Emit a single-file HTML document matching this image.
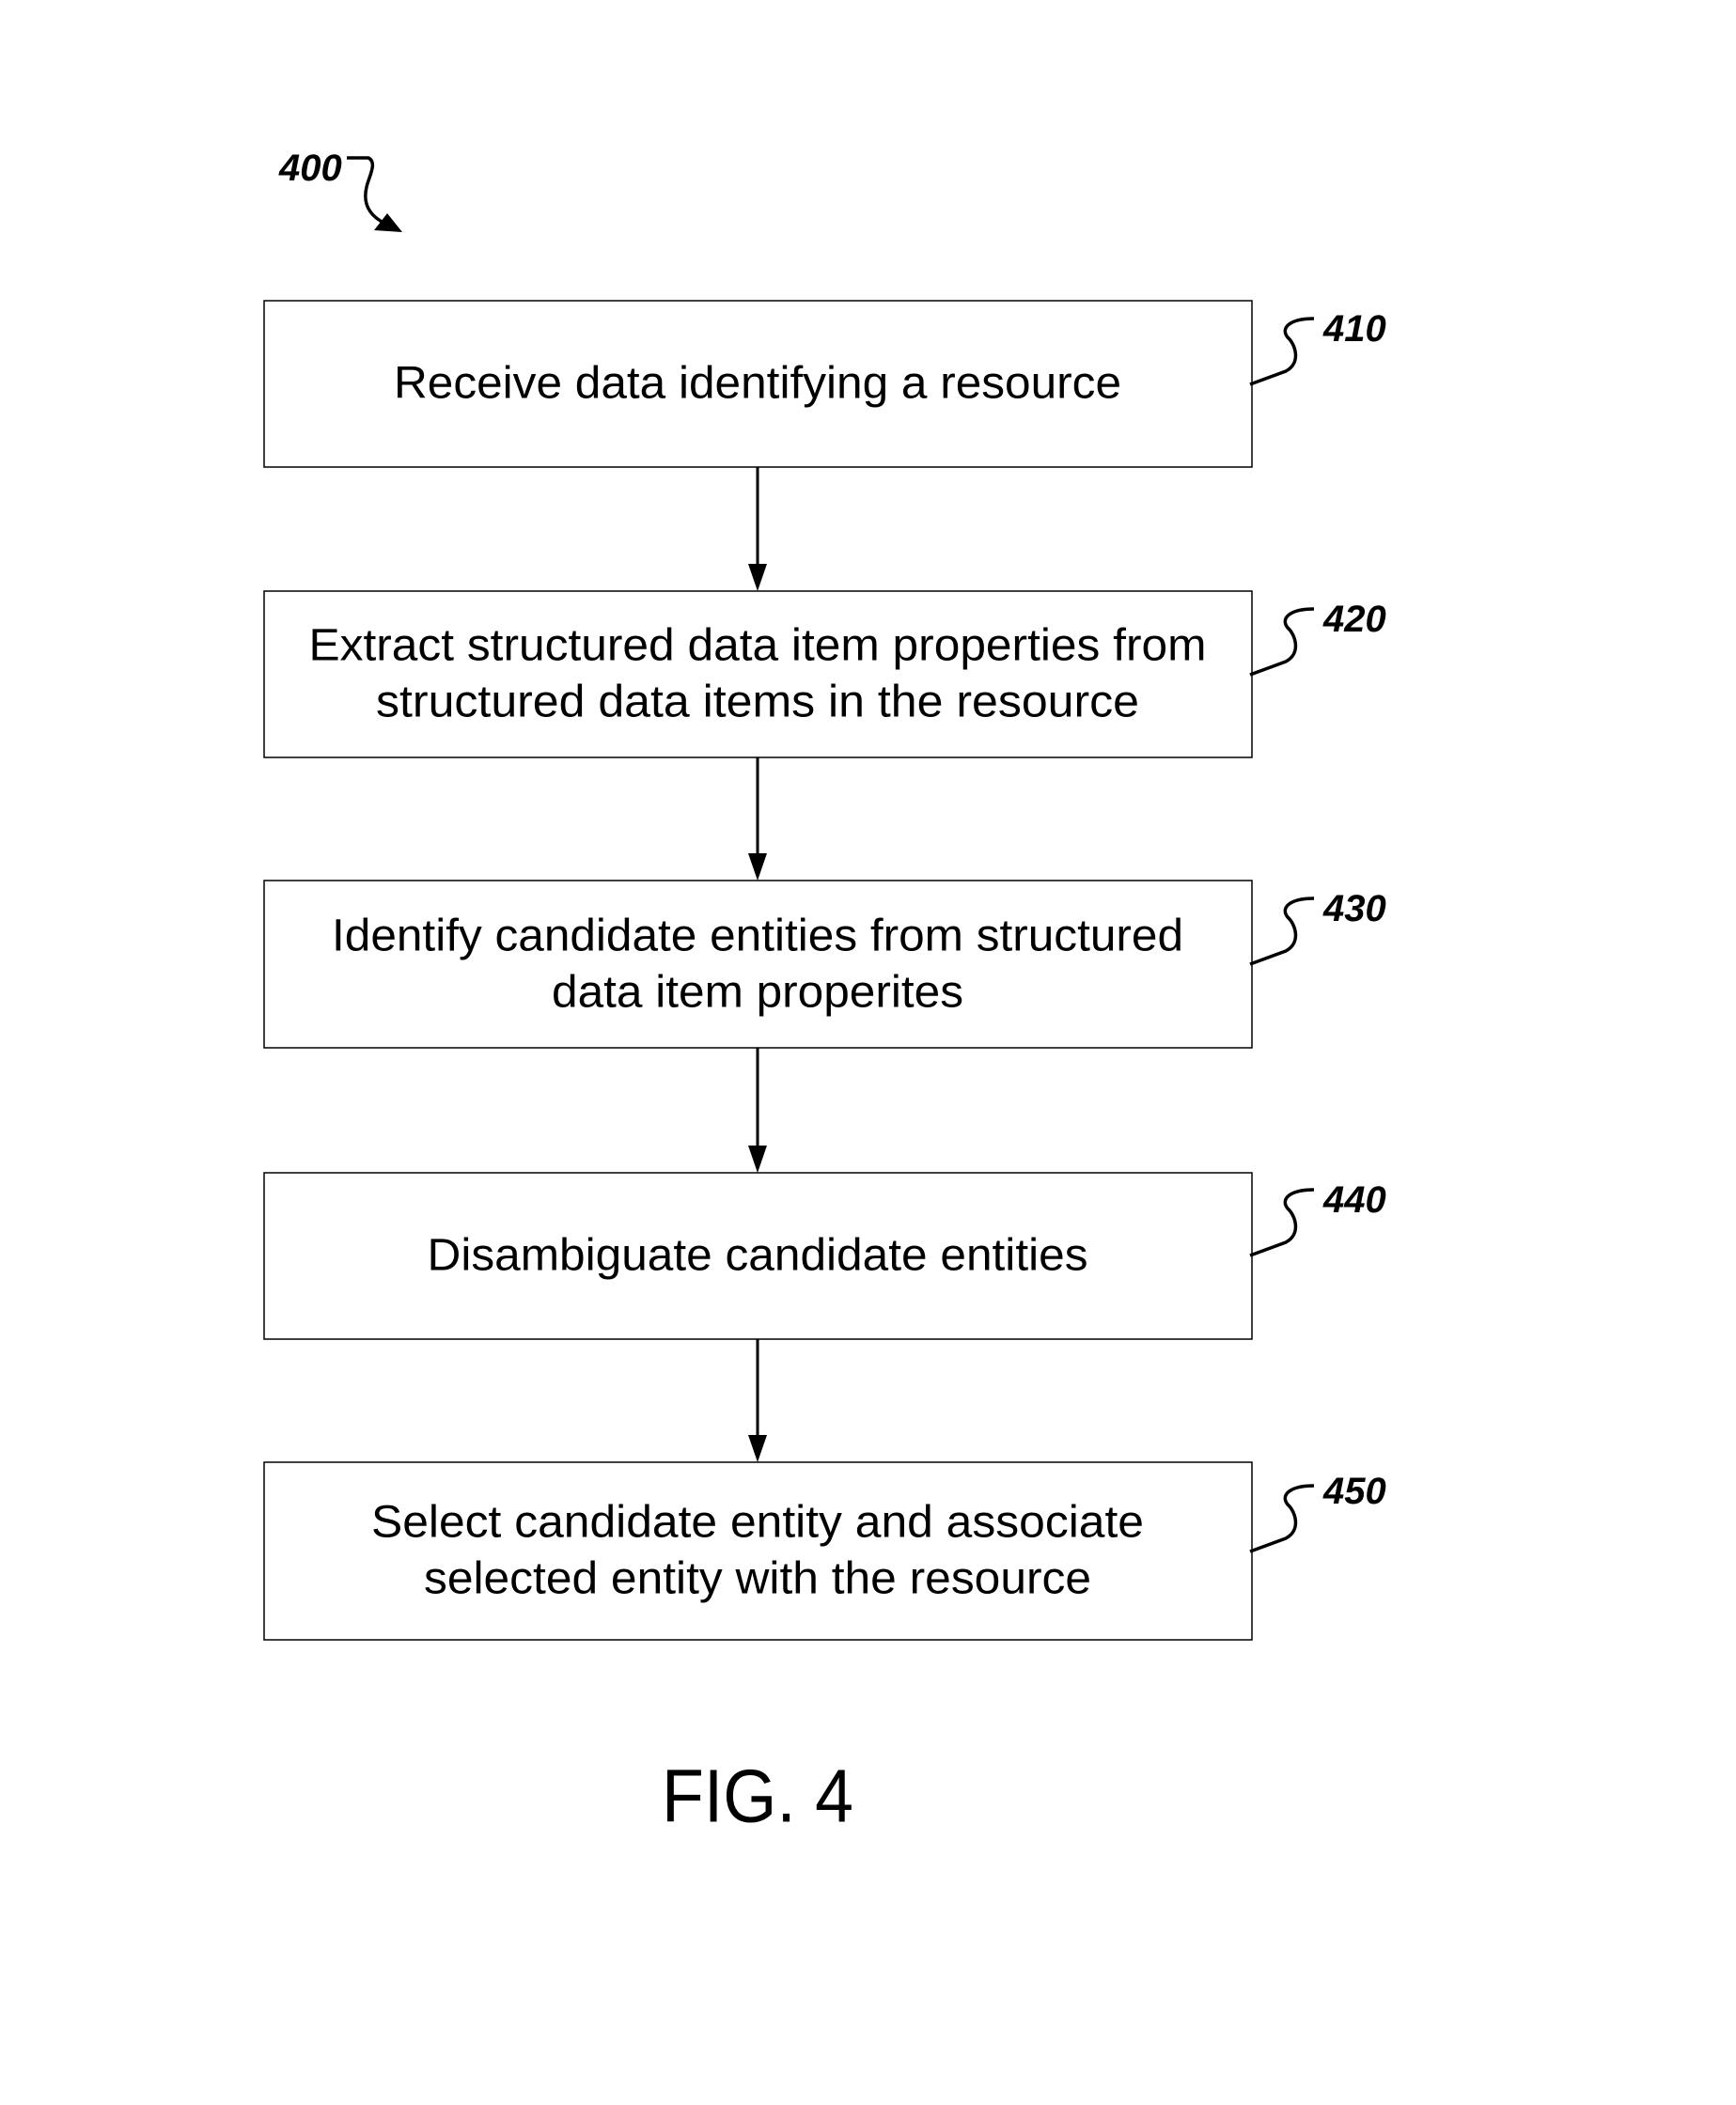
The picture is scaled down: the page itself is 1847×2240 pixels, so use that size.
<!DOCTYPE html>
<html><head><style>html,body{margin:0;padding:0;background:#fff}svg{display:block}</style></head>
<body>
<svg width="1847" height="2240" viewBox="0 0 1847 2240" xmlns="http://www.w3.org/2000/svg" font-family="Liberation Sans, Arial, sans-serif">
<g fill="none" stroke="#000" stroke-width="1.5">
<rect x="281" y="320" width="1051" height="177"/>
<rect x="281" y="629" width="1051" height="177"/>
<rect x="281" y="937" width="1051" height="178"/>
<rect x="281" y="1248" width="1051" height="177"/>
<rect x="281" y="1556" width="1051" height="189"/>
</g>
<g stroke="#000" stroke-width="3">
<line x1="806" y1="497" x2="806" y2="602"/>
<line x1="806" y1="806" x2="806" y2="910"/>
<line x1="806" y1="1115" x2="806" y2="1221"/>
<line x1="806" y1="1425" x2="806" y2="1529"/>
</g>
<g fill="#000">
<path d="M796,600 L816,600 L806,629 Z"/>
<path d="M796,908 L816,908 L806,937 Z"/>
<path d="M796,1219 L816,1219 L806,1248 Z"/>
<path d="M796,1527 L816,1527 L806,1556 Z"/>
</g>
<g font-size="48" text-anchor="middle" dominant-baseline="central" fill="#000">
<text x="806" y="408" textLength="774" lengthAdjust="spacingAndGlyphs">Receive data identifying a resource</text>
<text x="806" y="687" textLength="955" lengthAdjust="spacingAndGlyphs">Extract structured data item properties from</text>
<text x="806" y="747" textLength="812" lengthAdjust="spacingAndGlyphs">structured data items in the resource</text>
<text x="806" y="996" textLength="906" lengthAdjust="spacingAndGlyphs">Identify candidate entities from structured</text>
<text x="806" y="1056" textLength="438" lengthAdjust="spacingAndGlyphs">data item properites</text>
<text x="806" y="1336" textLength="703" lengthAdjust="spacingAndGlyphs">Disambiguate candidate entities</text>
<text x="806" y="1620" textLength="822" lengthAdjust="spacingAndGlyphs">Select candidate entity and associate</text>
<text x="806" y="1680" textLength="710" lengthAdjust="spacingAndGlyphs">selected entity with the resource</text>
<text x="806" y="1911" font-size="80" textLength="204" lengthAdjust="spacingAndGlyphs">FIG. 4</text>
</g>
<g fill="none" stroke="#000" stroke-width="3.5">
<path d="M1330,409 L1368,395 C1385,386 1378,366 1370,359 C1362,349 1372,339 1398,339"/>
<path d="M1330,718 L1368,704 C1385,695 1378,675 1370,668 C1362,658 1372,648 1398,648"/>
<path d="M1330,1026 L1368,1012 C1385,1003 1378,983 1370,976 C1362,966 1372,956 1398,956"/>
<path d="M1330,1336 L1368,1322 C1385,1313 1378,1293 1370,1286 C1362,1276 1372,1266 1398,1266"/>
<path d="M1330,1651 L1368,1637 C1385,1628 1378,1608 1370,1601 C1362,1591 1372,1581 1398,1581"/>
<path d="M369,168 L392,168 C402,173 392,189 390,199 C386,216 392,229 410,238"/>
</g>
<path d="M398,245 L428,247 L412,227 Z" fill="#000"/>
<g font-size="40" font-weight="bold" font-style="italic" fill="#000">
<text x="1408" y="363">410</text>
<text x="1408" y="672">420</text>
<text x="1408" y="980">430</text>
<text x="1408" y="1290">440</text>
<text x="1408" y="1600">450</text>
<text x="297" y="192">400</text>
</g>
</svg>
</body></html>
